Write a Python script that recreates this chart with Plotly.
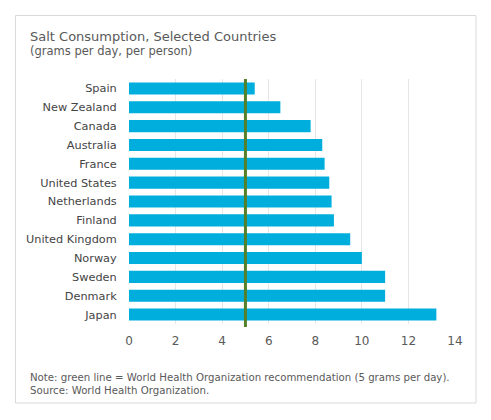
import plotly.graph_objects as go

countries = ["Spain", "New Zealand", "Canada", "Australia", "France", "United States",
             "Netherlands", "Finland", "United Kingdom", "Norway", "Sweden", "Denmark", "Japan"]
salt = [5.4, 6.5, 7.8, 8.3, 8.4, 8.6, 8.7, 8.8, 9.5, 10.0, 11.0, 11.0, 13.2]
who_rec = 5
x_ticks = [0, 2, 4, 6, 8, 10, 12, 14]

FONT = "DejaVu Sans"
TXT = "#595959"

fig = go.Figure()
fig.add_trace(go.Bar(
    y=countries, x=salt, orientation="h",
    marker=dict(color="#00AEDD", line=dict(width=0)),
    hoverinfo="x+y",
))

L, R, T, B = 129, 36, 79, 96
pw, ph = 491 - L - R, 420 - T - B


def px(x):
    return (x - L) / pw


def py(y):
    return (420 - B - y) / ph


fig.update_layout(
    width=491, height=420,
    paper_bgcolor="white", plot_bgcolor="white",
    margin=dict(l=L, r=R, t=T, b=B),
    bargap=0.36,
    showlegend=False,
    font=dict(family=FONT, color=TXT, size=12),
    xaxis=dict(range=[0, 14], tickvals=x_ticks, showgrid=True, gridcolor="#e6e6e6",
               gridwidth=1, zeroline=False, showline=False,
               ticks="outside", ticklen=6, tickcolor="rgba(0,0,0,0)",
               tickfont=dict(size=12, color=TXT, family=FONT), fixedrange=True),
    yaxis=dict(categoryorder="array", categoryarray=countries, autorange="reversed",
               showgrid=False, zeroline=False, ticks="outside", ticklen=9,
               tickcolor="rgba(0,0,0,0)",
               tickfont=dict(size=11.3, color="#444444", family=FONT), fixedrange=True),
    shapes=[
        dict(type="rect", xref="paper", yref="paper",
             x0=px(15.5), x1=px(476), y0=py(403), y1=py(15.5),
             line=dict(color="#d9d9d9", width=1), fillcolor="rgba(0,0,0,0)", layer="below"),
        dict(type="line", xref="x", yref="paper", x0=who_rec, x1=who_rec,
             y0=py(327), y1=1.0, line=dict(color="#55802A", width=3)),
    ],
)

fig.add_annotation(text="Salt Consumption, Selected Countries", xref="paper", yref="paper",
                   x=px(28), y=py(37), xanchor="left", yanchor="middle", showarrow=False,
                   font=dict(size=13, color=TXT, family=FONT))
fig.add_annotation(text="(grams per day, per person)", xref="paper", yref="paper",
                   x=px(28), y=py(51), xanchor="left", yanchor="middle", showarrow=False,
                   font=dict(size=11.5, color=TXT, family=FONT))
fig.add_annotation(text="Note: green line = World Health Organization recommendation (5 grams per day).",
                   xref="paper", yref="paper",
                   x=px(28), y=py(377), xanchor="left", yanchor="middle", showarrow=False,
                   font=dict(size=10.2, color=TXT, family=FONT))
fig.add_annotation(text="Source: World Health Organization.",
                   xref="paper", yref="paper",
                   x=px(28), y=py(390), xanchor="left", yanchor="middle", showarrow=False,
                   font=dict(size=10.2, color=TXT, family=FONT))

fig.write_html("out.html", config={"displayModeBar": False},
               post_script="document.body.style.margin='0';")
